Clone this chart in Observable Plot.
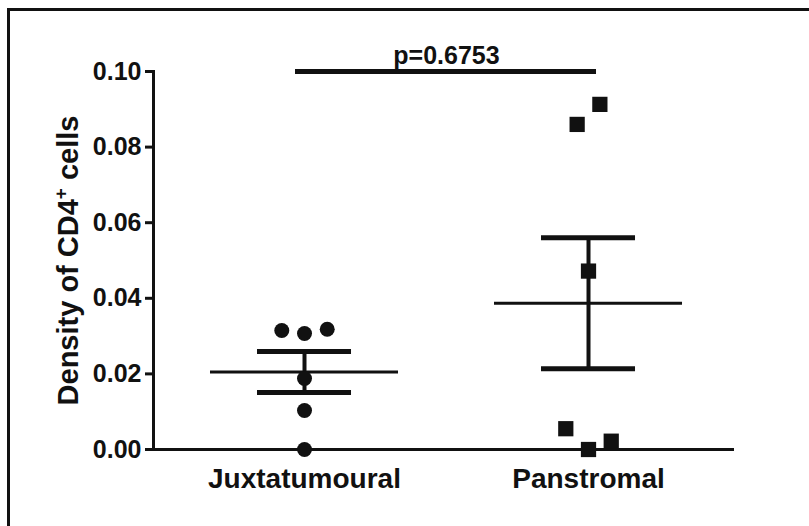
<!DOCTYPE html>
<html>
<head>
<meta charset="utf-8">
<script src="https://cdn.jsdelivr.net/npm/d3@7"></script>
<script src="https://cdn.jsdelivr.net/npm/@observablehq/plot@0.6"></script>
<style>
  html, body { margin: 0; padding: 0; background: #fff; }
  #wrap { position: relative; width: 809px; height: 526px; overflow: hidden; }
  #border { position: absolute; left: 7px; top: 8px; right: -10px; bottom: -10px;
            border-top: 3px solid #111; border-left: 3px solid #111; pointer-events: none; }
  svg { display: block; }
</style>
</head>
<body>
<div id="wrap"><div id="border"></div></div>
<script>
// ---- data ----
const categories = ["Juxtatumoural", "Panstromal"];
const juxtaValues = [0.0315, 0.0307, 0.0318, 0.0188, 0.0103, 0.0000];
const panstromalValues = [0.0860, 0.0913, 0.0472, 0.0055, 0.0000, 0.0022];
const yTicks = [0.00, 0.02, 0.04, 0.06, 0.08, 0.10];
const pLabel = "p=0.6753";
const yTitle = "Density of CD4+ cells";

// ---- build tables ----
const groups = [juxtaValues, panstromalValues];
const points = [];
const stats = [];
groups.forEach((vals, gi) => {
  const idx = gi + 1;
  // deterministic scatter spread: points with close values share a row
  const order = vals.map((v, k) => ({v, k})).sort((a, b) => a.v - b.v);
  const rows = [];
  order.forEach(p => {
    const last = rows[rows.length - 1];
    if (last && p.v - last[last.length - 1].v < 0.006) last.push(p);
    else rows.push([p]);
  });
  rows.forEach(row => {
    row.sort((a, b) => a.k - b.k);
    row.forEach((p, j) => {
      const off = (j - (row.length - 1) / 2) * 0.08;
      points.push({cat: categories[gi], i: idx, v: p.v, x: idx + off});
    });
  });
  const mean = d3.mean(vals);
  const sem = d3.deviation(vals) / Math.sqrt(vals.length);
  stats.push({cat: categories[gi], i: idx, mean, lo: mean - sem, hi: mean + sem});
});
const comparison = [{x1: 1, x2: 2, y: d3.max(yTicks), label: pLabel}];

const font = "'Liberation Sans', Arial, Helvetica, sans-serif";
const meanHalf = 0.331, capHalf = 0.1655;

const chart = Plot.plot({
  width: 809,
  height: 526,
  marginLeft: 153,
  marginRight: 77,
  marginTop: 71,
  marginBottom: 77,
  style: {fontFamily: font, background: "transparent", color: "#111"},
  x: {type: "linear", domain: [0.4683, 2.507], axis: null},
  y: {domain: [0, 0.1], axis: null},
  marks: [
    Plot.axisY(yTicks, {tickFormat: d3.format(".2f"), fontSize: 25, fontWeight: "bold",
      tickSize: 8, tickPadding: 4, strokeWidth: 3, label: null, fill: "#111"}),
    Plot.axisX([1, 2], {tickFormat: d => categories[d - 1], fontSize: 28, fontWeight: "bold",
      tickSize: 5, tickPadding: 14, strokeWidth: 3, label: null, fill: "#111"}),
    Plot.frame({anchor: "left", strokeWidth: 3, stroke: "#111"}),
    Plot.frame({anchor: "bottom", strokeWidth: 3, stroke: "#111"}),
    // mean lines
    Plot.ruleY(stats, {y: "mean", x1: d => d.i - meanHalf, x2: d => d.i + meanHalf, strokeWidth: 3, stroke: "#111"}),
    // SEM vertical
    Plot.ruleX(stats, {x: "i", y1: "lo", y2: "hi", strokeWidth: 4, stroke: "#111"}),
    // SEM caps
    Plot.ruleY(stats, {y: "hi", x1: d => d.i - capHalf, x2: d => d.i + capHalf, strokeWidth: 5, stroke: "#111"}),
    Plot.ruleY(stats, {y: "lo", x1: d => d.i - capHalf, x2: d => d.i + capHalf, strokeWidth: 5, stroke: "#111"}),
    // points
    Plot.dot(points.filter(d => d.i === 1), {x: "x", y: "v", r: 7.5, fill: "#111", symbol: "circle"}),
    Plot.dot(points.filter(d => d.i === 2), {x: "x", y: "v", r: 8.6, fill: "#111", symbol: "square"}),
    // significance bar
    Plot.ruleY(comparison, {y: "y", x1: "x1", x2: "x2", insetLeft: -9, insetRight: -8, strokeWidth: 5, stroke: "#111"}),
    Plot.text(comparison, {x: d => (d.x1 + d.x2) / 2, y: "y", text: "label", dy: -8, fontSize: 25,
      fontWeight: "bold", fill: "#111", lineAnchor: "bottom"}),
    // y title
    Plot.text([yTitle], {frameAnchor: "left", rotate: -90, dx: -85, fontSize: 29, fontWeight: "bold",
      fill: "#111", textAnchor: "middle", lineAnchor: "middle"})
  ]
});

document.getElementById("wrap").insertBefore(chart, document.getElementById("border"));

// superscript "+" in the y title
d3.select(chart).selectAll("text").each(function() {
  const t = d3.select(this);
  if (t.text() === yTitle) {
    const [a, b] = yTitle.split("+");
    t.text(null);
    t.append("tspan").text(a);
    t.append("tspan").attr("dy", "-0.55em").attr("font-size", "0.65em").text("+");
    t.append("tspan").attr("dy", "0.357em").text(b);
  }
});
</script>
</body>
</html>
